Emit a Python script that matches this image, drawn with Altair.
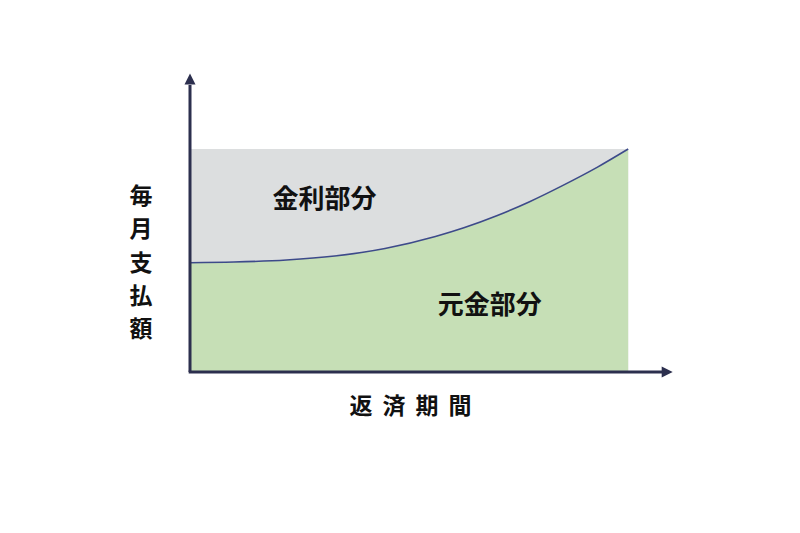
import altair as alt
import pandas as pd

# values (period 0..100, payment share 0..100)
period = [0, 10, 22, 33, 44.5, 56, 62.5, 70, 77.5, 85, 93, 100]
principal = [49.0, 49.3, 50.2, 52.0, 55.4, 60.8, 64.7, 70.1, 76.4, 83.6, 91.9, 100.0]
total = [100] * len(period)

interest_label = "金利部分"
principal_label = "元金部分"
y_title_chars = ["毎", "月", "支", "払", "額"]
x_title_chars = ["返", "済", "期", "間"]

df = pd.DataFrame({"period": period, "principal": principal, "total": total})
one = pd.DataFrame({"k": [0]})

AXIS_C = "#2c2f4e"
CURVE_C = "#3d4a8a"
GREY = "#dcdedf"
GREEN = "#c6dfb6"
FONT = "Noto Sans CJK JP"

xs = alt.Scale(domain=[0, 110], nice=False, zero=False)
ys = alt.Scale(domain=[0, 133.2], nice=False, zero=False)

base = alt.Chart(df)

grey = base.mark_area(color=GREY, opacity=1).encode(
    x=alt.X("period:Q", scale=xs, axis=None),
    y=alt.Y("total:Q", scale=ys, axis=None),
)
green = base.mark_area(color=GREEN, opacity=1, interpolate="monotone").encode(
    x=alt.X("period:Q", scale=xs, axis=None),
    y=alt.Y("principal:Q", scale=ys, axis=None),
)
curve = base.mark_line(color=CURVE_C, strokeWidth=1.6, interpolate="monotone").encode(
    x=alt.X("period:Q", scale=xs, axis=None),
    y=alt.Y("principal:Q", scale=ys, axis=None),
)

d1 = alt.Chart(one)
yaxis = d1.mark_rule(color=AXIS_C, strokeWidth=3).encode(
    x=alt.datum(0, scale=xs), y=alt.datum(0, scale=ys), y2=alt.datum(128.7)
)
xaxis = d1.mark_rule(color=AXIS_C, strokeWidth=3).encode(
    x=alt.datum(-0.3, scale=xs), x2=alt.datum(107.8), y=alt.datum(0, scale=ys)
)
yarrow = d1.mark_point(shape="M0,-1L1,1L-1,1Z", filled=True, size=121, color=AXIS_C, opacity=1).encode(
    x=alt.datum(0, scale=xs), y=alt.datum(131.4, scale=ys)
)
xarrow = d1.mark_point(shape="M1,0L-1,-1L-1,1Z", filled=True, size=121, color=AXIS_C, opacity=1).encode(
    x=alt.datum(108.9, scale=xs), y=alt.datum(0, scale=ys)
)

lab1 = d1.mark_text(text=interest_label, font=FONT, fontWeight="bold", fontSize=26,
                    color="#111111", align="center", baseline="middle").encode(
    x=alt.datum(30.7, scale=xs), y=alt.datum(77.3, scale=ys)
)
lab2 = d1.mark_text(text=principal_label, font=FONT, fontWeight="bold", fontSize=26,
                    color="#111111", align="center", baseline="middle").encode(
    x=alt.datum(68.4, scale=xs), y=alt.datum(29.6, scale=ys)
)

ytitle = d1.mark_text(text=y_title_chars, font=FONT, fontWeight="bold", fontSize=23,
                      lineHeight=33.3, color="#111111", align="center", baseline="middle").encode(
    x=alt.value(141 - 190), y=alt.value(197 - 75)
)

layers = [grey, green, curve, yaxis, xaxis, yarrow, xarrow, lab1, lab2, ytitle]
for i, ch in enumerate(x_title_chars):
    layers.append(
        d1.mark_text(text=ch, font=FONT, fontWeight="bold", fontSize=23,
                     color="#111111", align="center", baseline="middle").encode(
            x=alt.value(361 - 190 + 33 * i), y=alt.value(407 - 75)
        )
    )

chart = alt.layer(*layers).properties(
    width=482, height=297,
    background="white",
    autosize=alt.AutoSizeParams(type="none"),
    padding={"left": 182, "top": 67, "right": 110, "bottom": 150},
).configure_view(stroke=None)

chart.save("out.html", embed_options={"renderer": "svg", "actions": False})
